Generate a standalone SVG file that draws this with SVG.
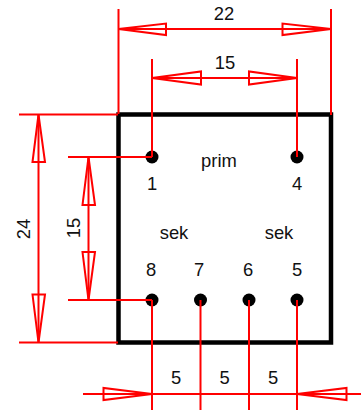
<svg xmlns="http://www.w3.org/2000/svg" width="361" height="410" viewBox="0 0 361 410">
<style>
text{font-family:"Liberation Sans",Arial,sans-serif;font-size:18.4px;fill:#111;text-anchor:middle}
.c line{stroke:#f00;stroke-width:2;fill:none}
.c polygon{stroke:#f00;stroke-width:2;fill:none}
</style>
<rect width="361" height="410" fill="#fff"/>
<g id="body"><rect x="118.5" y="114.5" width="212.5" height="228" fill="none" stroke="#000" stroke-width="4.5"/></g>
<g id="pin1"><circle cx="152" cy="157" r="6.5"/><text x="152" y="190">1</text></g>
<g id="pin4"><circle cx="297" cy="157" r="6.5"/><text x="297" y="190">4</text></g>
<g id="pin8"><circle cx="152" cy="300" r="6.5"/><text x="151" y="276">8</text></g>
<g id="pin7"><circle cx="200.500" cy="300" r="6.5"/><text x="199" y="276">7</text></g>
<g id="pin6"><circle cx="249" cy="300" r="6.5"/><text x="248" y="276">6</text></g>
<g id="pin5"><circle cx="297" cy="300" r="6.5"/><text x="297" y="276">5</text></g>
<g id="labels">
<text x="219" y="167">prim</text>
<text x="174" y="239">sek</text>
<text x="279" y="239">sek</text>
<text x="224" y="20">22</text>
<text x="225" y="69">15</text>
<text x="176" y="384">5</text>
<text x="224.500" y="384">5</text>
<text x="273" y="384">5</text>
<text transform="translate(29.500,229) rotate(-90)">24</text>
<text transform="translate(79.500,228) rotate(-90)">15</text>
</g>
<g id="connectors" class="c">
<line x1="118.500" y1="9" x2="118.500" y2="114"/>
<line x1="331" y1="9" x2="331" y2="115"/>
<line x1="118.500" y1="29" x2="331" y2="29"/>
<polygon points="118.500,29 166,23.500 166,35"/>
<polygon points="331,29 282.500,23.500 282.500,35"/>
<line x1="152" y1="59" x2="152" y2="157"/>
<line x1="297" y1="59" x2="297" y2="157"/>
<line x1="152" y1="78" x2="297" y2="78"/>
<polygon points="152,78 201,71.500 201,84.500"/>
<polygon points="297,78 249,71.500 249,84.500"/>
<line x1="19" y1="114.500" x2="118" y2="114.500"/>
<line x1="19" y1="342.500" x2="118" y2="342.500"/>
<line x1="38.500" y1="114.500" x2="38.500" y2="342.500"/>
<polygon points="38.500,114.500 32.500,162 45,162"/>
<polygon points="38.500,342.500 32.500,294.500 45,294.500"/>
<line x1="68" y1="157" x2="152" y2="157"/>
<line x1="68" y1="300" x2="152" y2="300"/>
<line x1="88.500" y1="157" x2="88.500" y2="300"/>
<polygon points="88.500,157 82.500,205 95,205"/>
<polygon points="88.500,300 82.500,252 95,252"/>
<line x1="152" y1="300" x2="152" y2="410"/>
<line x1="200.500" y1="300" x2="200.500" y2="410"/>
<line x1="249" y1="300" x2="249" y2="410"/>
<line x1="297" y1="300" x2="297" y2="410"/>
<line x1="83" y1="394" x2="361" y2="394"/>
<polygon points="152,394 103.500,388 103.500,400"/>
<polygon points="297,394 346.500,388 346.500,400"/>
</g>
</svg>
